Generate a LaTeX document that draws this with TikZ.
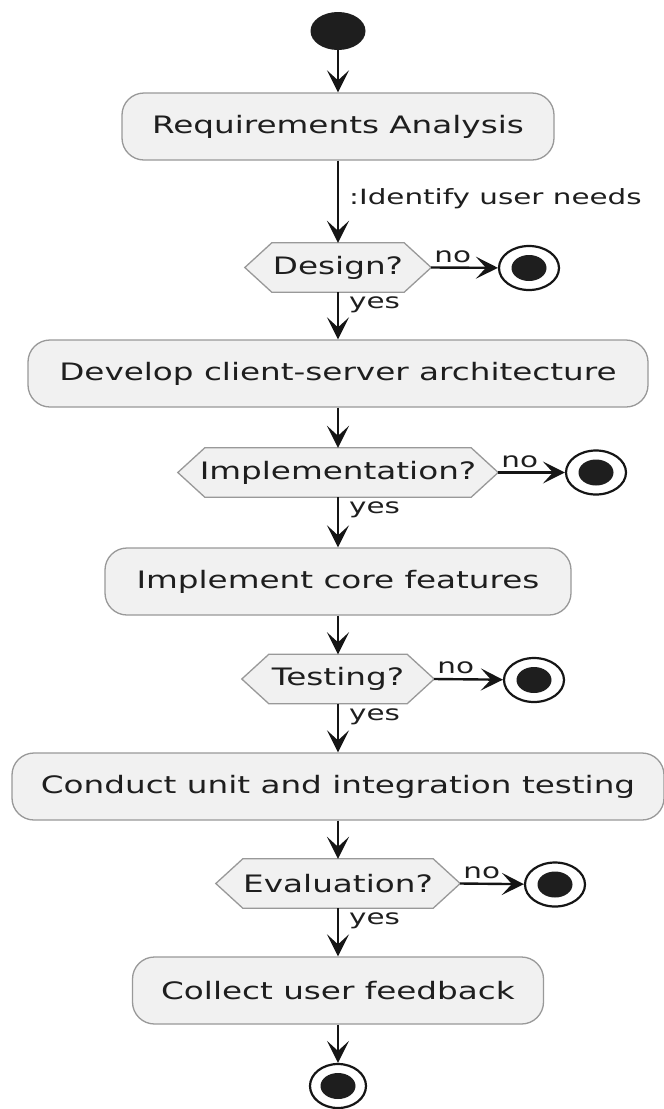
\documentclass[tikz,border=0pt]{standalone}
\usepackage{fontspec}
\newfontfamily\dvs[FakeStretch=1.36]{DejaVu Sans}
\newfontfamily\dvl[FakeStretch=1.4]{DejaVu Sans}
\usetikzlibrary{arrows.meta,backgrounds,shapes.geometric}
\definecolor{boxfill}{HTML}{F1F1F1}
\definecolor{boxline}{HTML}{999999}
\definecolor{txt}{HTML}{1E1E1E}
\definecolor{arr}{HTML}{151515}
\begin{document}
\begin{tikzpicture}[x=1pt,y=-1pt,
  act/.style={draw=boxline, line width=1.3pt, fill=boxfill, rounded corners=22pt,
    minimum height=67pt, inner sep=0pt, text=txt, font=\dvs\fontsize{24}{28}\selectfont},
  hexnode/.style={minimum height=49pt, inner sep=0pt, text=txt, font=\dvs\fontsize{24}{28}\selectfont},
  hexdraw/.style={draw=boxline, line width=1.3pt, fill=boxfill},
  lbl/.style={font=\dvl\fontsize{21}{25}\selectfont, text=txt, inner sep=0pt},
  flow/.style={draw=arr, line width=2.4pt, -{Stealth[length=22pt,width=22pt,inset=10pt]}},
  startc/.style={ellipse, fill=txt, minimum width=55pt, minimum height=38pt, inner sep=0pt},
  endc/.style={ellipse, draw=arr, line width=2.2pt, fill=white, minimum width=60pt, minimum height=44pt, inner sep=0pt},
]
\useasboundingbox (0,0) rectangle (664,1109);

\node[startc] (start) at (338,31) {};
\node[act, minimum width=432pt] (req) at (338,126.5) {Requirements Analysis};
\node[hexnode, minimum width=186pt] (d1) at (338,267.5) {Design?};
\node[endc] (e1) at (529,268) {};
\node[act, minimum width=620pt] (dev) at (338,373.5) {Develop client-server architecture};
\node[hexnode, minimum width=320pt] (d2) at (338,472.5) {Implementation?};
\node[endc] (e2) at (596,472.5) {};
\node[act, minimum width=466pt] (impl) at (338,581.5) {Implement core features};
\node[hexnode, minimum width=192pt] (d3) at (338,679) {Testing?};
\node[endc] (e3) at (534,680) {};
\node[act, minimum width=652pt] (cond) at (338,786.5) {Conduct unit and integration testing};
\node[hexnode, minimum width=244pt] (d4) at (338,883.5) {Evaluation?};
\node[endc] (e4) at (555,884.5) {};
\node[act, minimum width=411pt] (col) at (338,990.5) {Collect user feedback};
\node[endc, minimum width=56pt] (fin) at (338,1086) {};

\foreach \e in {e1,e2,e3,e4,fin}{
  \fill[txt] (\e.center) ellipse [x radius=17.5pt, y radius=13pt];
}

\begin{scope}[on background layer]
  \fill[white] (0,0) rectangle (664,1109);
  \foreach \n in {d1,d2,d3,d4}{
    \draw[hexdraw] (\n.west) -- ([xshift=27pt]\n.north west) -- ([xshift=-27pt]\n.north east)
      -- (\n.east) -- ([xshift=-27pt]\n.south east) -- ([xshift=27pt]\n.south west) -- cycle;
  }
\end{scope}

\draw[flow] (start) -- (req);
\draw[flow] (req) -- (d1);
\path (req.south) ++(11,38) node[lbl, anchor=west] (lid) {:Identify user needs};
\draw[flow] (d1.south) -- (dev.north);
\draw[flow] (dev) -- (d2);
\draw[flow] (d2.south) -- (impl.north);
\draw[flow] (impl) -- (d3);
\draw[flow] (d3.south) -- (cond.north);
\draw[flow] (cond) -- (d4);
\draw[flow] (d4.south) -- (col.north);
\draw[flow] (col) -- (fin);

\foreach \d/\e in {d1/e1,d2/e2,d3/e3,d4/e4}{
  \draw[flow] (\d.east) -- (\e);
  \path (\d.east) ++(3,-11) node[lbl, anchor=west] {no};
  \path (\d.south) ++(11,13) node[lbl, anchor=west] {yes};
}
\end{tikzpicture}
\end{document}
